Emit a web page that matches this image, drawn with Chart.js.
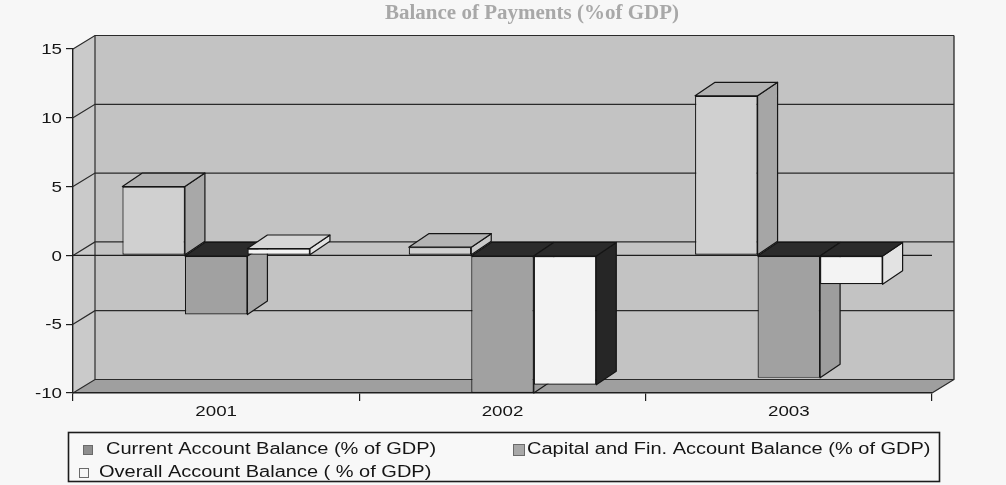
<!DOCTYPE html>
<html>
<head>
<meta charset="utf-8">
<title>Balance of Payments (%of GDP)</title>
<script src="https://cdn.jsdelivr.net/npm/chart.js@4/dist/chart.umd.min.js"></script>
<style>
  html, body { margin: 0; padding: 0; background: #f7f7f7; }
  #wrap { width: 1006px; height: 485px; }
</style>
</head>
<body>
<div id="wrap"><canvas id="bop" width="1006" height="485"></canvas></div>
<script>
// ---- data ----
const years = ['2001', '2002', '2003'];
const currentAccount = [5.0, 0.6, 11.6];
const capitalAccount = [-4.3, -10.0, -8.9];
const overallAccount = [0.5, -9.4, -2.1];
const valueTicks = [-10, -5, 0, 5, 10, 15];
const seriesLabels = [
  'Current Account Balance (% of GDP)',
  'Capital and Fin. Account Balance (% of GDP)',
  'Overall Account Balance ( % of GDP)'
];
const chartTitle = 'Balance of Payments (%of GDP)';

// ---- look ----
const WALL = { dx: 22, dy: -13.5 };   // depth of the walls/floor
const BAR = { dx: 20, dy: -13.5 };    // depth of each column
const INK = '#151515';
const faces = [
  { front: '#d0d0d0', top: '#b3b3b3', side: ['#a8a8a8', '#c9c9c9', '#a6a6a6'], key: '#8e8e8e' },
  { front: '#a1a1a1', top: '#b3b3b3', side: ['#a6a6a6', '#9c9c9c', '#9d9d9d'], key: '#a8a8a8' },
  { front: '#f3f3f3', top: '#d6d6d6', side: ['#e2e2e2', '#262626', '#e3e3e3'], key: '#f6f6f6' }
];
const UNDER_TOP = '#2b2b2b';          // zero-level cap of columns hanging below zero
const TEXT_STRETCH = 1.25;

function poly(ctx, pts, fill, stroke, lw) {
  ctx.beginPath();
  ctx.moveTo(pts[0][0], pts[0][1]);
  for (let i = 1; i < pts.length; i++) ctx.lineTo(pts[i][0], pts[i][1]);
  ctx.closePath();
  if (fill) { ctx.fillStyle = fill; ctx.fill(); }
  if (stroke) { ctx.strokeStyle = stroke; ctx.lineWidth = lw || 1.2; ctx.lineJoin = 'round'; ctx.stroke(); }
}
function line(ctx, pts, color, lw) {
  ctx.beginPath();
  ctx.moveTo(pts[0][0], pts[0][1]);
  for (let i = 1; i < pts.length; i++) ctx.lineTo(pts[i][0], pts[i][1]);
  ctx.strokeStyle = color; ctx.lineWidth = lw || 1.2; ctx.stroke();
}
function stretchedText(ctx, text, x, y, align, font, color, sx) {
  ctx.save();
  ctx.translate(x, y);
  ctx.scale(sx, 1);
  ctx.font = font;
  ctx.fillStyle = color;
  ctx.textAlign = align;
  ctx.textBaseline = 'middle';
  ctx.fillText(text, 0, 0);
  ctx.restore();
}

// Walls, floor and back gridlines go under the axes; column caps and sides under the column fronts.
const depthPlugin = {
  id: 'depth3d',
  beforeDraw(chart) {
    const { ctx, chartArea: a, scales: { y } } = chart;
    ctx.save();
    ctx.fillStyle = '#f7f7f7';
    ctx.fillRect(0, 0, chart.width, chart.height);

    const bl = a.left + WALL.dx, br = a.right + WALL.dx;
    const bt = a.top + WALL.dy, bb = a.bottom + WALL.dy;
    // back wall
    poly(ctx, [[bl, bt], [br, bt], [br, bb], [bl, bb]], '#c3c3c3', null);
    // side wall
    poly(ctx, [[a.left, a.top], [bl, bt], [bl, bb], [a.left, a.bottom]], '#cacaca', null);
    // floor
    poly(ctx, [[a.left, a.bottom], [a.right, a.bottom], [br, bb], [bl, bb]], '#9f9f9f', null);

    // gridlines on the side and back walls
    valueTicks.forEach(v => {
      const py = y.getPixelForValue(v);
      line(ctx, [[a.left, py], [a.left + WALL.dx, py + WALL.dy], [br, py + WALL.dy]], '#2a2a2a', 1.2);
    });
    line(ctx, [[bl, bt], [bl, bb]], '#2a2a2a', 1.2);
    line(ctx, [[br, bt], [br, bb], [a.right, a.bottom]], '#2a2a2a', 1.3);
    ctx.restore();
  },
  beforeDatasetsDraw(chart) {
    const { ctx, chartArea: a, scales: { y } } = chart;
    ctx.save();
    // zero line across the front
    const y0 = y.getPixelForValue(0);
    line(ctx, [[a.left, y0], [a.right, y0]], '#1e1e1e', 1.3);

    // caps and right-hand sides of every column
    for (let i = 0; i < years.length; i++) {
      chart.data.datasets.forEach((ds, d) => {
        const el = chart.getDatasetMeta(d).data[i];
        if (!el) return;
        const p = el.getProps(['x', 'y', 'base', 'width'], true);
        const l = p.x - p.width / 2, r = p.x + p.width / 2;
        const t = Math.min(p.y, p.base), b = Math.max(p.y, p.base);
        const below = ds.data[i] < 0;
        const capColor = below ? UNDER_TOP : faces[d].top;
        poly(ctx, [[r, t], [r + BAR.dx, t + BAR.dy], [r + BAR.dx, b + BAR.dy], [r, b]], faces[d].side[i], INK, 1.2);
        poly(ctx, [[l, t], [r, t], [r + BAR.dx, t + BAR.dy], [l + BAR.dx, t + BAR.dy]], capColor, INK, 1.2);
      });
    }
    ctx.restore();
  },
  afterDraw(chart) {
    const { ctx, scales: { x, y } } = chart;
    ctx.save();
    const axisFont = '15px "Liberation Sans", Arial, sans-serif';
    // value labels
    valueTicks.forEach(v => {
      stretchedText(ctx, String(v), 62, y.getPixelForValue(v) + 1, 'right', axisFont, INK, TEXT_STRETCH);
    });
    // category labels
    years.forEach((yr, i) => {
      stretchedText(ctx, yr, x.getPixelForValue(i), 412, 'center', axisFont, INK, TEXT_STRETCH);
    });
    // title
    stretchedText(ctx, chartTitle, 532, 14, 'center', 'bold 20px "Liberation Serif", "Times New Roman", serif', '#a8a8a8', 1.05);

    // legend
    ctx.fillStyle = '#f8f8f8';
    ctx.fillRect(68.5, 432.5, 871, 49);
    ctx.strokeStyle = '#1c1c1c';
    ctx.lineWidth = 1.6;
    ctx.strokeRect(68.5, 432.5, 871, 49);
    const legendFont = '16px "Liberation Sans", Arial, sans-serif';
    const items = [
      { sw: [83, 445, 9], tx: 106, ty: 450 },
      { sw: [513, 444, 11], tx: 527, ty: 450 },
      { sw: [79, 468, 9], tx: 99, ty: 473 }
    ];
    items.forEach((it, d) => {
      const [sx, sy, s] = it.sw;
      ctx.fillStyle = faces[d].key;
      ctx.fillRect(sx + 0.5, sy + 0.5, s, s);
      ctx.strokeStyle = '#6a6a6a';
      ctx.lineWidth = 1;
      ctx.strokeRect(sx + 0.5, sy + 0.5, s, s);
      stretchedText(ctx, seriesLabels[d], it.tx, it.ty, 'left', legendFont, INK, TEXT_STRETCH);
    });
    ctx.restore();
  }
};

const seriesData = [currentAccount, capitalAccount, overallAccount];

new Chart(document.getElementById('bop'), {
  type: 'bar',
  data: {
    labels: years,
    datasets: seriesData.map((vals, d) => ({
      label: seriesLabels[d],
      data: vals,
      backgroundColor: faces[d].front,
      borderColor: INK,
      borderWidth: 1.2,
      borderSkipped: false
    }))
  },
  options: {
    responsive: false,
    animation: false,
    devicePixelRatio: 1,
    events: [],
    layout: { padding: { left: 0, top: 49, right: 74, bottom: 0 } },
    datasets: { bar: { categoryPercentage: 0.655, barPercentage: 1 } },
    plugins: {
      legend: { display: false },
      title: { display: false },
      tooltip: { enabled: false }
    },
    scales: {
      x: {
        offset: true,
        grid: { offset: true, drawOnChartArea: false, drawTicks: true, tickLength: 8, color: '#1e1e1e', lineWidth: 1.2 },
        border: { display: true, color: '#1e1e1e', width: 1.4 },
        ticks: { display: false },
        afterFit(scale) { scale.height = 92; }
      },
      y: {
        min: valueTicks[0],
        max: valueTicks[valueTicks.length - 1],
        afterBuildTicks(scale) { scale.ticks = valueTicks.map(v => ({ value: v })); },
        grid: { drawOnChartArea: false, drawTicks: true, tickLength: 7, color: '#1e1e1e', lineWidth: 1.2 },
        border: { display: true, color: '#1e1e1e', width: 1.4 },
        ticks: { display: false },
        afterFit(scale) { scale.width = 73; }
      }
    }
  },
  plugins: [depthPlugin]
});
</script>
</body>
</html>
